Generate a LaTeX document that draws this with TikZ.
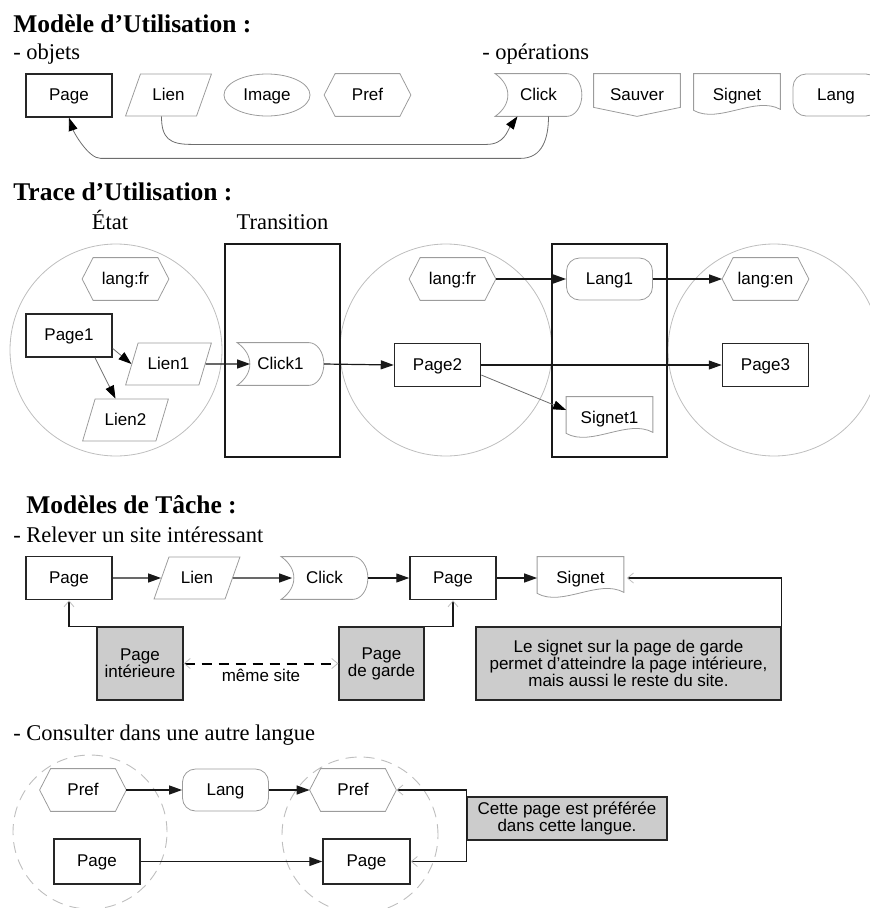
\documentclass[tikz,border=0pt]{standalone}
\usepackage{fontspec}
\setmainfont{Liberation Serif}
\newfontfamily\sansobj{Liberation Sans}
\usetikzlibrary{shapes.geometric,arrows.meta}

\definecolor{objgray}{HTML}{9C9C9C}
\definecolor{etatgray}{HTML}{BEBEBE}
\definecolor{notegray}{HTML}{CCCCCC}

\newcommand{\objfont}{\sansobj\fontsize{17}{17}\selectfont}
\newcommand{\titlefont}{\bfseries\fontsize{25.5}{27}\selectfont}
\newcommand{\subfont}{\fontsize{22.5}{24}\selectfont}

\newcommand{\prefshape}[1]{\draw[objline] (#1.west) -- ([xshift=11pt]#1.north west) -- ([xshift=-11pt]#1.north east) -- (#1.east) -- ([xshift=-11pt]#1.south east) -- ([xshift=11pt]#1.south west) -- cycle;}
\newcommand{\clickshape}[1]{\draw[objline] (#1.north west) .. controls +(17,12) and +(17,-12) .. (#1.south west) -- ([xshift=-15pt]#1.south east) .. controls +(8,0) and +(0,12) .. (#1.east) .. controls +(0,-12) and +(8,0) .. ([xshift=-15pt]#1.north east) -- cycle;}
\newcommand{\sauvershape}[1]{\draw[objline] ([yshift=9pt]#1.south west) -- (#1.north west) -- (#1.north east) -- ([yshift=9pt]#1.south east) -- (#1.south) -- cycle;}
\newcommand{\signetshape}[1]{\draw[objline] ([yshift=6pt]#1.south west) -- (#1.north west) -- (#1.north east) -- ([yshift=7pt]#1.south east) .. controls +(-25,-14) and +(25,14) .. ([yshift=6pt]#1.south west);}

\tikzset{every picture/.style={line width=0.75pt}}
\tikzset{
  faintbarb/.tip={Straight Barb[length=6pt,width=10pt,color=black!25,line width=0.8pt]},
  objline/.style={draw=objgray, line width=0.8pt},
  objbase/.style={minimum width=86pt, minimum height=42pt, inner sep=0pt, text height=14pt, text depth=3.5pt, font=\objfont},
  pagebox/.style={objbase, draw=black!85, line width=1.5pt, minimum height=43pt},
  lienbox/.style={objbase, objline, trapezium, trapezium left angle=64, trapezium right angle=116, trapezium stretches=true},
  imagebox/.style={objbase, objline, ellipse},
  langbox/.style={objbase, objline, rounded corners=13pt},
  notebox/.style={draw=black!85, line width=1.3pt, fill=notegray, font=\objfont, align=center, inner sep=2pt},
  etat/.style={circle, draw=etatgray, line width=0.8pt, minimum size=212pt, inner sep=0pt},
  etatdash/.style={circle, draw=etatgray, line width=0.9pt, dash pattern=on 11pt off 7pt, inner sep=0pt},
  transbox/.style={draw=black!90, line width=1.5pt, minimum width=115pt, minimum height=213pt},
  heading/.style={anchor=base west, inner sep=0pt, font=\titlefont},
  subhead/.style={anchor=base west, inner sep=0pt, font=\subfont},
  flow/.style={draw=black!90, line width=1.2pt, -{Triangle[length=13pt,width=9pt]}},
  thinflow/.style={draw=objgray!70!black, line width=0.8pt, -{Triangle[length=13pt,width=9pt,color=black]}},
  callout/.style={draw=black!90, line width=1.1pt, -faintbarb},
  samesite/.style={draw=black, line width=2pt, dash pattern=on 10pt off 7pt, faintbarb-faintbarb},
}

\begin{document}
\begin{tikzpicture}[x=1pt,y=-1pt]
\useasboundingbox (0,0) rectangle (870,908);

\node[heading] (titreA) at (13,32) {Modèle d’Utilisation :};
\node[subhead] (objets) at (13,59) {- objets};
\node[subhead] (operations) at (482,59) {- opérations};

\node[pagebox] (page) at (69,95.5) {Page};
\node[lienbox] (lien) at (168.5,95) {Lien};
\node[imagebox] (image) at (267,95) {Image};
\node[objbase] (pref) at (367.5,95) {Pref};
\node[objbase] (click) at (538.5,95) {Click};
\node[objbase] (sauver) at (637,95) {Sauver};
\node[objbase] (signet) at (737,95) {Signet};
\node[langbox] (lang) at (836,95) {Lang};
\prefshape{pref} \clickshape{click} \sauvershape{sauver} \signetshape{signet}

\draw[thinflow] ([xshift=-7pt]lien.south) .. controls +(0,22) and +(-22,0) .. ++(30,28) -- ++(295,0) .. controls +(18,0) and +(-10,14) .. ([xshift=-21pt]click.south);
\draw[thinflow] ([xshift=10pt]click.south) .. controls +(0,22) and +(22,0) .. ++(-28,42) -- ++(-420,0) .. controls +(-12,0) and +(5,15) .. (page.south);

\node[heading] (titreB) at (13,200) {Trace d’Utilisation :};
\node[subhead, anchor=base] (etat) at (110,229) {État};
\node[subhead, anchor=base] (transition) at (282.5,229) {Transition};

\node[etat] (etatA) at (116,350) {};
\node[etat] (etatB) at (446,350) {};
\node[etat] (etatC) at (774,350) {};
\node[transbox] (transA) at (282.5,350.5) {};
\node[transbox] (transB) at (609.5,350.5) {};

\node[objbase] (langfrA) at (125.5,279) {lang:fr};
\node[pagebox] (page1) at (69,335.5) {Page1};
\node[lienbox] (lien1) at (168.5,364) {Lien1};
\node[lienbox] (lien2) at (125.5,420) {Lien2};
\node[objbase] (click1) at (280.5,364) {Click1};
\node[pagebox] (page2) at (437.5,365) {Page2};
\node[objbase] (langfrB) at (452.5,279) {lang:fr};
\node[langbox] (lang1) at (609.5,279) {Lang1};
\node[objbase] (langen) at (765.5,279) {lang:en};
\node[pagebox] (page3) at (765.5,365) {Page3};
\node[objbase] (signet1) at (609.5,418) {Signet1};
\prefshape{langfrA} \prefshape{langfrB} \prefshape{langen}
\clickshape{click1} \signetshape{signet1}

\draw[thinflow] ([yshift=-13pt]page1.east) -- (lien1.west);
\draw[thinflow] ([xshift=26pt]page1.south) -- ([xshift=-10pt]lien2.north);
\draw[flow] (lien1.east) -- ([xshift=13pt]click1.west);
\draw[flow] (click1.east) -- (page2.west);
\draw[flow] (langfrB.east) -- (lang1.west);
\draw[flow] (lang1.east) -- (langen.west);
\draw[flow] (page2.east) -- (page3.west);
\draw[thinflow] ([yshift=-10pt]page2.east) -- ([yshift=8pt]signet1.west);

\node[heading] (titreC) at (26,513) {Modèles de Tâche :};
\node[subhead] (relever) at (13,542) {- Relever un site intéressant};

\node[pagebox] (pageT1) at (69,578) {Page};
\node[lienbox] (lienT) at (197,578) {Lien};
\node[objbase] (clickT) at (324.5,578) {Click};
\node[pagebox] (pageT2) at (453,578) {Page};
\node[objbase] (signetT) at (580.5,578) {Signet};
\clickshape{clickT} \signetshape{signetT}

\node[notebox, minimum width=86pt, minimum height=73pt] (interieure) at (140,663.5) {Page\\intérieure};
\node[notebox, minimum width=85pt, minimum height=73pt] (garde) at (381.5,663.5) {Page\\de garde};
\node[notebox, minimum width=305pt, minimum height=73pt] (noteS) at (628.5,663.5) {Le signet sur la page de garde\\permet d’atteindre la page intérieure,\\mais aussi le reste du site.};

\draw[flow] (pageT1.east) -- (lienT.west);
\draw[flow] (lienT.east) -- ([xshift=11pt]clickT.west);
\draw[flow] (clickT.east) -- (pageT2.west);
\draw[flow] (pageT2.east) -- (signetT.west);
\draw[callout] (interieure.north west) -| (pageT1.south);
\draw[callout] (garde.north east) -| (pageT2.south);
\draw[callout] (noteS.north east) |- ([xshift=3pt]signetT.east);
\draw[samesite] (interieure.east) -- (garde.west) node[midway, below=1pt, font=\objfont] (memesite) {même site};

\node[subhead] (consulter) at (13,740) {- Consulter dans une autre langue};

\node[etatdash, minimum size=154pt] (etatD) at (90,832) {};
\node[etatdash, minimum size=156pt] (etatE) at (360,835) {};
\node[objbase] (prefL) at (83,790) {Pref};
\node[langbox] (langL) at (225.5,790) {Lang};
\node[objbase] (prefR) at (353,790) {Pref};
\node[pagebox, minimum height=45pt] (pageL) at (97,861.5) {Page};
\node[pagebox, minimum height=45pt, minimum width=87pt] (pageR) at (366.5,861.5) {Page};
\prefshape{prefL} \prefshape{prefR}
\node[notebox, minimum width=200pt, minimum height=43pt] (noteP) at (567,818.5) {Cette page est préférée\\dans cette langue.};

\draw[flow] (prefL.east) -- (langL.west);
\draw[flow] (langL.east) -- (prefR.west);
\draw[flow] (pageL.east) -- (pageR.west);
\draw[callout] (noteP.west) |- (prefR.east);
\draw[callout] (noteP.west) |- (pageR.east);

\end{tikzpicture}
\end{document}
